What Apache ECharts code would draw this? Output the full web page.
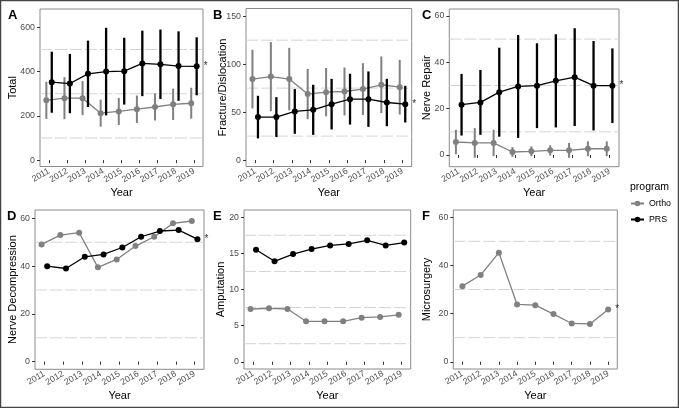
<!DOCTYPE html>
<html><head><meta charset="utf-8">
<script src="https://cdn.jsdelivr.net/npm/echarts@6/dist/echarts.min.js"></script>
<style>html,body{margin:0;padding:0;background:#fff}#c{width:679px;height:408px}</style>
</head><body><div id="c"></div><script>
const years = [2011,2012,2013,2014,2015,2016,2017,2018,2019];
const yearLabels = ['2011','2012','2013','2014','2015','2016','2017','2018','2019'];
const seriesNames = ['Ortho','PRS'];

// A Total
const totalOrtho   = [270,280,280,212,220,230,240,252,257];
const totalOrthoSD = [84,95,77,61,61,62,61,71,70];
const totalPRS     = [352,346,390,400,402,437,433,425,424];
const totalPRSSD   = [138,134,150,198,151,148,157,157,131];
const totalTicks = [0,200,400,600];
const totalGrid  = [100,300,500];
// B Fracture/Dislocation
const fracOrtho   = [84.4,87,84.4,68.8,70.8,71.5,74,78.5,76];
const fracOrthoSD = [30.6,36,32.6,26.2,25.2,25,27,29.5,28.5];
const fracPRS     = [44.8,44.8,50.7,52.4,58.3,63.5,63.5,60,58.3];
const fracPRSSD   = [22.2,20.8,23.3,26.1,26.4,26.5,28.9,24.7,19.1];
const fracTicks = [0,50,100,150];
const fracGrid  = [25,75,125];
// C Nerve Repair
const repairOrtho   = [5.6,5.2,5.2,1.3,1.6,2.0,2.0,2.7,2.7];
const repairOrthoSD = [5.3,6.4,5.7,2.1,2.1,2.2,3.2,3.2,3.2];
const repairPRS     = [21.7,22.7,27.1,29.6,29.9,32,33.6,29.9,29.9];
const repairPRSSD   = [13.3,14,19.2,22.2,18.3,20.1,21.1,19.3,16.1];
const repairTicks = [0,20,40,60];
const repairGrid  = [10,30,50];
// D Nerve Decompression
const decompOrtho = [49.1,53,54,39.5,42.8,48.4,52.3,57.9,58.9];
const decompPRS   = [40,39,43.9,44.9,47.8,52.3,54.7,55.1,51.3];
const decompTicks = [0,20,40,60];
const decompGrid  = [10,30,50];
// E Amputation
const ampOrtho = [7.3,7.4,7.3,5.6,5.6,5.6,6.1,6.2,6.5];
const ampPRS   = [15.5,13.9,14.9,15.6,16.1,16.3,16.8,16.1,16.5];
const ampTicks = [0,5,10,15,20];
const ampGrid  = [2.5,7.5,12.5,17.5];
// F Microsurgery
const microOrtho = [31.4,36,45.3,23.8,23.5,19.8,15.9,15.7,21.7];
const microTicks = [0,20,40,60];
const microGrid  = [10,30,50];

const FONT = "'Liberation Sans', Arial, sans-serif";
const GRAY = '#808080', BLACK = '#000000';
const X0 = 2010.5, X1 = 2019.5;
const chart = echarts.init(document.getElementById('c'));

const grids=[], xAxes=[], yAxes=[], series=[];

function panel(p){
  const i = grids.length;
  const xv = 2*i+1;
  grids.push({left:p.rect[0], top:p.rect[1], width:p.rect[2], height:p.rect[3], show:true,
    borderColor:'#8a8a8a', borderWidth:1, backgroundColor:'#fff', containLabel:false});
  // visible category axis for labels/ticks
  xAxes.push({type:'category', gridIndex:i, data:yearLabels, boundaryGap:true,
    name:'Year', nameLocation:'middle', nameGap:p.xGap, nameMoveOverlap:false,
    nameTextStyle:{fontFamily:FONT, fontSize:11, color:'#000'},
    axisLine:{show:false}, splitLine:{show:false},
    axisTick:{show:true, length:3, alignWithLabel:true, interval:0, lineStyle:{color:'#333'}},
    axisLabel:{interval:0, rotate:30, fontSize:8.8, color:'#4d4d4d', fontFamily:FONT, margin:4}});
  // hidden value axis used for dodged data positions
  xAxes.push({type:'value', gridIndex:i, min:X0, max:X1, show:false});
  yAxes.push({type:'value', gridIndex:i, min:p.yMin, max:p.yMax,
    name:p.yName, nameLocation:'middle', nameRotate:90, nameGap:p.yGap, nameMoveOverlap:false,
    nameTextStyle:{fontFamily:FONT, fontSize:11, color:'#000'},
    axisLine:{show:false}, splitLine:{show:false},
    axisTick:{show:true, length:3, customValues:p.ticks, lineStyle:{color:'#333'}},
    axisLabel:{customValues:p.ticks, formatter:v=>String(v), showMinLabel:true, showMaxLabel:true,
      fontSize:8.8, color:'#4d4d4d', fontFamily:FONT, margin:5}});
  series.push({type:'custom', xAxisIndex:xv, yAxisIndex:i, silent:true, z:1,
    data:p.grid.map(v=>[X0, v]), encode:{x:0,y:1},
    renderItem:(params, api)=>{
      const cs = params.coordSys;
      const y = api.coord([X0, api.value(1)])[1];
      return {type:'line', shape:{x1:cs.x, y1:y, x2:cs.x+cs.width, y2:y},
        style:{stroke:'#d4d4d4', lineWidth:1, lineDash:[12,3]}};
    }});
  p.groups.forEach((g, k)=>{
    const color = g.name==='Ortho'?GRAY:BLACK;
    const off = p.groups.length>1 ? (g.name==='Ortho'?-0.15:0.15) : 0;
    const pts = years.map((yr,j)=>{
      const item = {value:[yr+off, g.mean[j]]};
      if (g.star && j===years.length-1) item.label={show:true, formatter:'*', position:'right', distance:4, fontSize:10, color:'#333', fontFamily:FONT};
      return item;
    });
    series.push({type:'line', name:g.name, xAxisIndex:xv, yAxisIndex:i, data:pts,
      symbol:'circle', symbolSize:6, z:3+2*k, color:color,
      lineStyle:{color:color, width:1.3}, itemStyle:{color:color}, emphasis:{disabled:true}, animation:false});
    if (g.sd){
      series.push({type:'custom', name:g.name, xAxisIndex:xv, yAxisIndex:i, z:2+2*k, silent:true,
        data:years.map((yr,j)=>[yr+off, g.mean[j], g.sd[j]]), encode:{x:0,y:1},
        renderItem:(params, api)=>{
          const x=api.value(0), m=api.value(1), s=api.value(2);
          const a=api.coord([x,m-s]), b=api.coord([x,m+s]);
          return {type:'line', shape:{x1:a[0],y1:a[1],x2:b[0],y2:b[1]},
            style:{stroke:color, lineWidth:g.name==='PRS'?2.3:2}};
        }});
    }
  });
}

panel({rect:[40,9,163,157.5], yMin:-29, yMax:683, ticks:totalTicks, grid:totalGrid, yName:'Total', yGap:21.5, xGap:21,
  groups:[{name:'Ortho',mean:totalOrtho,sd:totalOrthoSD},{name:'PRS',mean:totalPRS,sd:totalPRSSD,star:true}]});
panel({rect:[246,8.5,165.7,158], yMin:-6.7, yMax:158, ticks:fracTicks, grid:fracGrid, yName:'Fracture/Dislocation', yGap:18, xGap:21,
  groups:[{name:'Ortho',mean:fracOrtho,sd:fracOrthoSD},{name:'PRS',mean:fracPRS,sd:fracPRSSD,star:true}]});
panel({rect:[449.3,9,169.7,157.7], yMin:-5.05, yMax:63, ticks:repairTicks, grid:repairGrid, yName:'Nerve Repair', yGap:17, xGap:21,
  groups:[{name:'Ortho',mean:repairOrtho,sd:repairOrthoSD},{name:'PRS',mean:repairPRS,sd:repairPRSSD,star:true}]});
panel({rect:[35,210,169,159.3], yMin:-3.2, yMax:63.5, ticks:decompTicks, grid:decompGrid, yName:'Nerve Decompression', yGap:17, xGap:21,
  groups:[{name:'Ortho',mean:decompOrtho},{name:'PRS',mean:decompPRS,star:true}]});
panel({rect:[244,210,166.7,159], yMin:-1.0, yMax:21, ticks:ampTicks, grid:ampGrid, yName:'Amputation', yGap:18, xGap:21,
  groups:[{name:'Ortho',mean:ampOrtho},{name:'PRS',mean:ampPRS}]});
panel({rect:[453.3,210,164,159], yMin:-3, yMax:63, ticks:microTicks, grid:microGrid, yName:'Microsurgery', yGap:21, xGap:21,
  groups:[{name:'Ortho',mean:microOrtho,star:true}]});

const letters = [['A',8,8.5],['B',213,8.5],['C',422,8.5],['D',7,209.5],['E',213,209.5],['F',422,209.5]];

chart.setOption({
  animation:false,
  textStyle:{fontFamily:FONT},
  grid:grids, xAxis:xAxes, yAxis:yAxes, series:series,
  legend:{data:seriesNames, orient:'vertical', left:630, top:199, padding:0, itemWidth:13, itemHeight:7, itemGap:7,
    textStyle:{fontSize:8.8, color:'#000', fontFamily:FONT}, selectedMode:false},
  graphic:[
    {type:'rect', shape:{x:0.5,y:0.5,width:678,height:407}, style:{fill:'none', stroke:'#444', lineWidth:1.5}, silent:true},
    {type:'text', left:630, top:181.5, style:{text:'program', fontSize:10.5, fill:'#000', fontFamily:FONT}},
    ...letters.map(l=>({type:'text', left:l[1], top:l[2], style:{text:l[0], fontSize:13, fontWeight:'bold', fill:'#000', fontFamily:FONT}}))
  ]
});
</script></body></html>
